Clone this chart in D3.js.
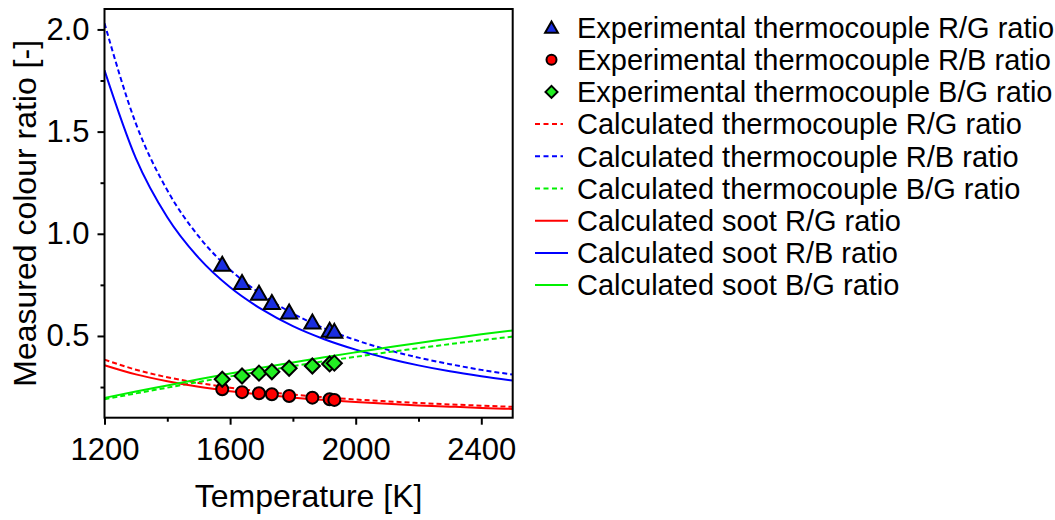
<!DOCTYPE html>
<html>
<head>
<meta charset="utf-8">
<script src="https://cdn.jsdelivr.net/npm/d3@7"></script>
<style>
  html, body { margin: 0; padding: 0; background: #fff; }
  svg { display: block; font-family: "Liberation Sans", Arial, sans-serif; }
</style>
</head>
<body>
<svg id="chart" width="1055" height="520"></svg>
<script>
// ---------------- data ----------------
const expTemps   = [1575, 1638, 1692, 1733, 1788, 1862, 1917, 1932];
const expRG      = [0.848, 0.759, 0.706, 0.661, 0.615, 0.566, 0.526, 0.520]; // triangles (blue)
const expRB      = [0.239, 0.225, 0.220, 0.215, 0.206, 0.198, 0.190, 0.187]; // circles (red)
const expBG      = [0.288, 0.304, 0.318, 0.325, 0.342, 0.353, 0.363, 0.367]; // diamonds (green)

const calcTemps  = [1200, 1300, 1400, 1500, 1600, 1700, 1800, 1900, 2000, 2100, 2200, 2300, 2400, 2500];
const tcRG       = [0.384, 0.335, 0.298, 0.270, 0.247, 0.228, 0.213, 0.200, 0.189, 0.180, 0.172, 0.165, 0.159, 0.153];
const tcRB       = [2.030, 1.539, 1.213, 0.987, 0.824, 0.703, 0.610, 0.537, 0.480, 0.433, 0.394, 0.362, 0.334, 0.311];
const tcBG       = [0.190, 0.219, 0.247, 0.275, 0.302, 0.327, 0.352, 0.376, 0.398, 0.420, 0.440, 0.460, 0.479, 0.497];
const sootRG     = [0.357, 0.312, 0.278, 0.251, 0.230, 0.213, 0.198, 0.187, 0.177, 0.168, 0.160, 0.154, 0.148, 0.143];
const sootRB     = [1.800, 1.369, 1.081, 0.882, 0.738, 0.631, 0.548, 0.484, 0.433, 0.391, 0.356, 0.327, 0.303, 0.282];
const sootBG     = [0.197, 0.228, 0.258, 0.288, 0.316, 0.344, 0.370, 0.396, 0.420, 0.443, 0.466, 0.487, 0.508, 0.527];

const xMajorTicks = [1200, 1600, 2000, 2400];
const xMinorTicks = [1400, 1800, 2200];
const yMajorTicks = [0.5, 1.0, 1.5, 2.0];
const yMinorTicks = [0.25, 0.75, 1.25, 1.75];

const legendLabels = [
  "Experimental thermocouple R/G ratio",
  "Experimental thermocouple R/B ratio",
  "Experimental thermocouple B/G ratio",
  "Calculated thermocouple R/G ratio",
  "Calculated thermocouple R/B ratio",
  "Calculated thermocouple B/G ratio",
  "Calculated soot R/G ratio",
  "Calculated soot R/B ratio",
  "Calculated soot B/G ratio"
];

// ---------------- layout ----------------
const BLUE = "#0000ff", RED = "#ff0000", GREEN = "#00f000";
const MBLUE = "#1a2ee0", MRED = "#ff0000", MGREEN = "#22ee22";
const plot = { left: 104.5, right: 512.7, top: 9, bottom: 417.7 };

const svg = d3.select("#chart");
const x = d3.scaleLinear().domain([1200, 2500]).range([plot.left, plot.right]);
const y = d3.scaleLinear().domain([0.1, 2.1]).range([plot.bottom, plot.top]);

svg.append("defs").append("clipPath").attr("id", "clip")
  .append("rect").attr("x", plot.left).attr("y", plot.top)
  .attr("width", plot.right - plot.left).attr("height", plot.bottom - plot.top);

// axes
const fontAxis = 31;
const xAxis = svg.append("g").attr("transform", `translate(0,${plot.bottom})`)
  .call(d3.axisBottom(x).tickValues(xMajorTicks).tickFormat(d3.format("d")).tickSize(7).tickSizeOuter(0).tickPadding(13));
const xAxisMinor = svg.append("g").attr("transform", `translate(0,${plot.bottom})`)
  .call(d3.axisBottom(x).tickValues(xMinorTicks).tickFormat("").tickSize(4).tickSizeOuter(0));
const yAxis = svg.append("g").attr("transform", `translate(${plot.left},0)`)
  .call(d3.axisLeft(y).tickValues(yMajorTicks).tickFormat(d3.format(".1f")).tickSize(7).tickSizeOuter(0).tickPadding(8));
const yAxisMinor = svg.append("g").attr("transform", `translate(${plot.left},0)`)
  .call(d3.axisLeft(y).tickValues(yMinorTicks).tickFormat("").tickSize(4).tickSizeOuter(0));

[xAxis, xAxisMinor, yAxis, yAxisMinor].forEach(g => {
  g.select(".domain").remove();
  g.selectAll("line").attr("stroke", "#000").attr("stroke-width", 2);
  g.selectAll("text").attr("font-size", fontAxis).attr("fill", "#000")
    .attr("font-family", "'Liberation Sans', Arial, sans-serif");
});

// axis titles
svg.append("text")
  .attr("x", (plot.left + plot.right) / 2).attr("y", 507)
  .attr("text-anchor", "middle").attr("font-size", 32).text("Temperature [K]");
svg.append("text")
  .attr("transform", `translate(36,${(plot.top + plot.bottom) / 2}) rotate(-90)`)
  .attr("text-anchor", "middle").attr("font-size", 32).text("Measured colour ratio [-]");

// lines
const lineGen = d3.line().x(d => x(d[0])).y(d => y(d[1])).curve(d3.curveMonotoneX);
const series = [
  { vals: tcRG, color: RED, dash: "5,3" },
  { vals: tcRB, color: BLUE, dash: "5,3" },
  { vals: tcBG, color: GREEN, dash: "5,3" },
  { vals: sootRG, color: RED, dash: null },
  { vals: sootRB, color: BLUE, dash: null },
  { vals: sootBG, color: GREEN, dash: null }
];
const linesG = svg.append("g").attr("clip-path", "url(#clip)");
series.forEach(s => {
  linesG.append("path")
    .datum(calcTemps.map((t, i) => [t, s.vals[i]]))
    .attr("d", lineGen)
    .attr("fill", "none")
    .attr("stroke", s.color)
    .attr("stroke-width", 2)
    .attr("stroke-dasharray", s.dash);
});

// markers
const triPath = k => `M0,${-8*k} L${8*k},${6*k} L${-8*k},${6*k}Z`;
const diaPath = k => `M0,${-7.5*k} L${7.5*k},0 L0,${7.5*k} L${-7.5*k},0Z`;
const markG = svg.append("g");
function drawMarkers(vals, kind, fill) {
  const sel = markG.selectAll(null).data(expTemps.map((t, i) => [t, vals[i]])).enter();
  if (kind === "circle") {
    sel.append("circle").attr("cx", d => x(d[0])).attr("cy", d => y(d[1])).attr("r", 6)
      .attr("fill", fill).attr("stroke", "#000").attr("stroke-width", 2);
  } else {
    sel.append("path").attr("d", kind === "tri" ? triPath(1) : diaPath(1))
      .attr("transform", d => `translate(${x(d[0])},${y(d[1])})`)
      .attr("fill", fill).attr("stroke", "#000").attr("stroke-width", 2);
  }
}
drawMarkers(expRB, "circle", MRED);
drawMarkers(expBG, "dia", MGREEN);
drawMarkers(expRG, "tri", MBLUE);

// frame
svg.append("rect").attr("x", plot.left).attr("y", plot.top)
  .attr("width", plot.right - plot.left).attr("height", plot.bottom - plot.top)
  .attr("fill", "none").attr("stroke", "#000").attr("stroke-width", 2);

// legend
const legX = 551.5, legTextX = 577, legY0 = 27.5, legDy = 32.2;
const legendItems = [
  { type: "tri", fill: MBLUE }, { type: "circle", fill: MRED }, { type: "dia", fill: MGREEN },
  { type: "dash", color: RED }, { type: "dash", color: BLUE }, { type: "dash", color: GREEN },
  { type: "solid", color: RED }, { type: "solid", color: BLUE }, { type: "solid", color: GREEN }
];
const leg = svg.append("g");
legendItems.forEach((it, i) => {
  const cy = legY0 + i * legDy;
  if (it.type === "tri") {
    leg.append("path").attr("d", triPath(0.8)).attr("transform", `translate(${legX},${cy + 0.5})`)
      .attr("fill", it.fill).attr("stroke", "#000").attr("stroke-width", 2);
  } else if (it.type === "circle") {
    leg.append("circle").attr("cx", legX).attr("cy", cy).attr("r", 5)
      .attr("fill", it.fill).attr("stroke", "#000").attr("stroke-width", 2);
  } else if (it.type === "dia") {
    leg.append("path").attr("d", diaPath(0.8)).attr("transform", `translate(${legX},${cy})`)
      .attr("fill", it.fill).attr("stroke", "#000").attr("stroke-width", 2);
  } else if (it.type === "dash") {
    leg.append("line").attr("x1", 535).attr("x2", 563).attr("y1", cy).attr("y2", cy)
      .attr("stroke", it.color).attr("stroke-width", 2).attr("stroke-dasharray", "5,3.5");
  } else {
    leg.append("line").attr("x1", 535).attr("x2", 568).attr("y1", cy).attr("y2", cy)
      .attr("stroke", it.color).attr("stroke-width", 2);
  }
  leg.append("text").attr("x", legTextX).attr("y", cy + 10.3)
    .attr("font-size", 29).attr("fill", "#000").text(legendLabels[i]);
});
</script>
</body>
</html>
